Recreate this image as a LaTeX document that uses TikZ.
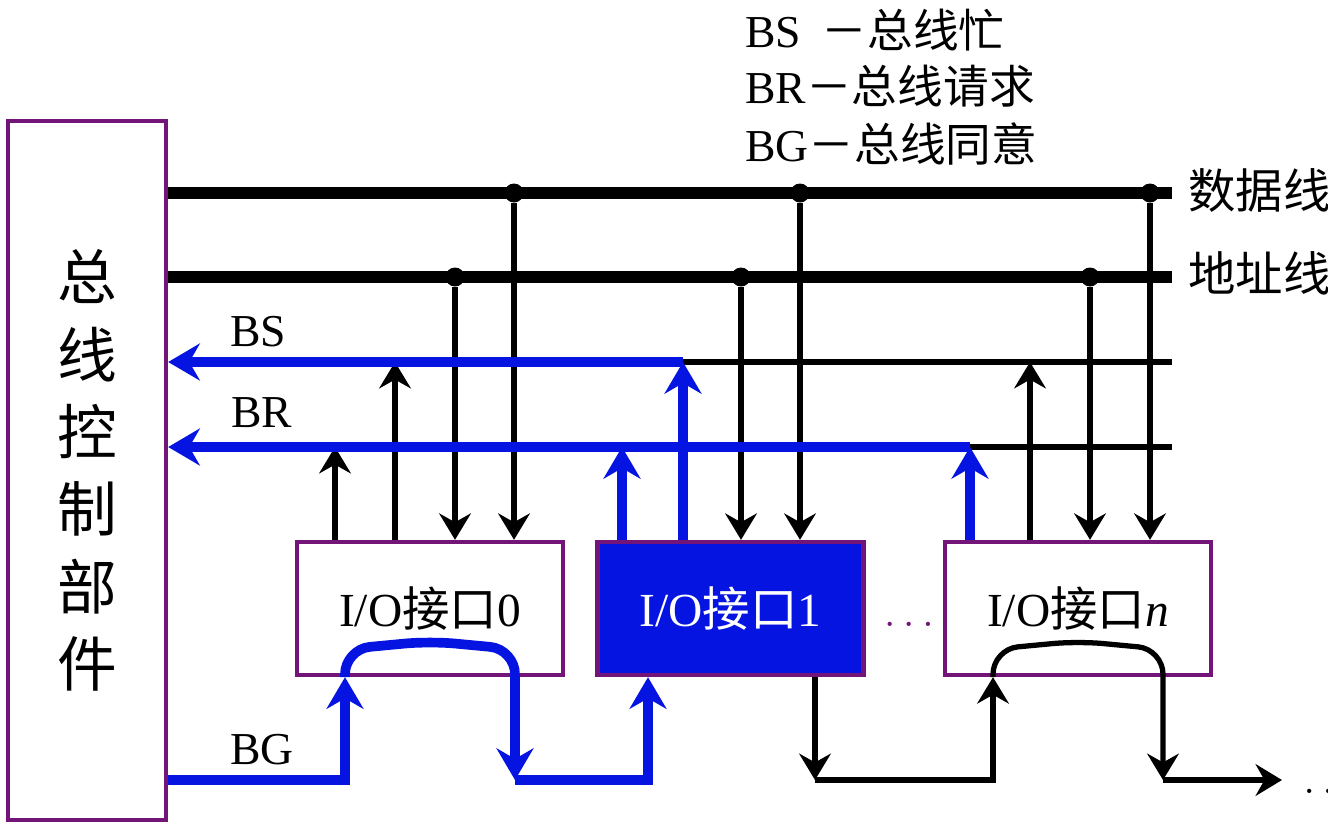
\documentclass[tikz,border=0pt]{standalone}
\usepackage{fontspec}
\setmainfont{Liberation Serif}
\newfontfamily\cjk{Noto Sans CJK SC}
\usetikzlibrary{arrows.meta}
\definecolor{busblue}{RGB}{5,20,225}
\definecolor{boxpurple}{RGB}{115,20,120}
\newcommand{\zhtext}[1]{{\cjk #1}}
\tikzset{
  bus/.style={line width=6.5pt},
  sig/.style={line width=3pt, >={Stealth[length=15pt,width=18pt,inset=5pt]}},
  bgsig/.style={line width=5.5pt, draw=busblue, >={Stealth[length=18pt,width=21pt,inset=6pt]}},
  tap/.style={circle, fill, inner sep=0pt, minimum size=0.38cm},
  ctrlbox/.style={draw=boxpurple, line width=2.5pt, minimum width=3.16cm,
    minimum height=13.98cm, align=center, font=\cjk\fontsize{34}{44}\selectfont},
  iobox/.style={draw=boxpurple, line width=2.5pt, fill=white, minimum width=5.32cm,
    minimum height=2.66cm, font=\fontsize{27}{30}\selectfont},
  lbl/.style={inner sep=0pt, font=\fontsize{26}{30}\selectfont}
}
\begin{document}
\begin{tikzpicture}[x=0.02cm,y=-0.02cm]
  \useasboundingbox (0,0) rectangle (1328,826);
  % units
  \node[ctrlbox] (ctrl) at (87,470.5) {总\\线\\控\\制\\部\\件};
  \node[iobox] (box0) at (430,608.5) {I/O\zhtext{接口}0};
  \node[iobox,fill=busblue,text=white] (box1) at (730.5,608.5) {I/O\zhtext{接口}1};
  \node[iobox] (boxn) at (1078,608.5) {I/O\zhtext{接口}\textit{n}};
  \node[lbl,text=boxpurple,anchor=base,font=\fontsize{27}{30}\selectfont] (gap) at (909,626) {$\ldots$};
  % legend
  \node[lbl,anchor=base west] (lgbs) at (745,47) {BS\hspace{0.45em}\zhtext{－总线忙}};
  \node[lbl,anchor=base west] (lgbr) at (745,103) {BR\zhtext{－总线请求}};
  \node[lbl,anchor=base west] (lgbg) at (745,161) {BG\zhtext{－总线同意}};
  % data and address bus
  \coordinate (dataend) at (1172,193);
  \coordinate (addrend) at (1172,277);
  \draw[bus] (ctrl.east |- dataend) -- (dataend);
  \draw[bus] (ctrl.east |- addrend) -- (addrend);
  \node[lbl,anchor=west,font=\cjk\fontsize{27}{30}\selectfont] (datalbl) at (1188,190) {数据线};
  \node[lbl,anchor=west,font=\cjk\fontsize{27}{30}\selectfont] (addrlbl) at (1188,273) {地址线};
  \node[tap] (d0) at (514,193) {};
  \node[tap] (d1) at (800,193) {};
  \node[tap] (dn) at (1150,193) {};
  \node[tap] (a0) at (455,277) {};
  \node[tap] (a1) at (741,277) {};
  \node[tap] (an) at (1090,277) {};
  \draw[sig,->] (d0) -- (d0 |- box0.north);
  \draw[sig,->] (d1) -- (d1 |- box1.north);
  \draw[sig,->] (dn) -- (dn |- boxn.north);
  \draw[sig,->] (a0) -- (a0 |- box0.north);
  \draw[sig,->] (a1) -- (a1 |- box1.north);
  \draw[sig,->] (an) -- (an |- boxn.north);
  % BS and BR
  \coordinate (bsbend) at (683,362);
  \coordinate (bsend) at (1172,362);
  \coordinate (brbend) at (970,447);
  \coordinate (brend) at (1172,447);
  \coordinate (r0) at (335,447);
  \coordinate (s0) at (395,362);
  \coordinate (r1) at (622,447);
  \coordinate (sn) at (1030,362);
  \draw[sig] (bsbend) -- (bsend);
  \draw[sig] (brbend) -- (brend);
  \draw[sig,->] (r0 |- box0.north) -- (r0);
  \draw[sig,->] (s0 |- box0.north) -- (s0);
  \draw[sig,->] (sn |- boxn.north) -- (sn);
  \draw[bgsig,->] (bsbend) -- (ctrl.east |- bsbend);
  \draw[bgsig,->] (brbend) -- (ctrl.east |- brbend);
  \draw[bgsig,->] (r1 |- box1.north) -- (r1);
  \draw[bgsig,->] (bsbend |- box1.north) -- (bsbend);
  \draw[bgsig,->] (brbend |- boxn.north) -- (brbend);
  \node[lbl,anchor=base west] (bslbl) at (230,346) {BS};
  \node[lbl,anchor=base west] (brlbl) at (231,427) {BR};
  \node[lbl,anchor=base west] (bglbl) at (230,764) {BG};
  % BG daisy chain
  \coordinate (g0in) at (345,780);
  \coordinate (g0out) at (515,780);
  \coordinate (g1in) at (648,780);
  \coordinate (g1out) at (815,780);
  \coordinate (gnin) at (993,780);
  \coordinate (gnout) at (1163,780);
  \coordinate (more) at (1282,780);
  \draw[bgsig,->] (ctrl.east |- g0in) -- (g0in) -- (g0in |- box0.south);
  \draw[bgsig,->,rounded corners=0.5cm] (g0in |- box0.south) -- ++(0,-28)
    -- ++(85,-8) -- ++(85,8) -- (g0out);
  \draw[bgsig,->] (g0out) -- (g1in) -- (g1in |- box1.south);
  \draw[sig,->] (g1out |- box1.south) -- (g1out);
  \draw[sig,->] (g1out) -- (gnin) -- (gnin |- boxn.south);
  \draw[sig,->,rounded corners=0.5cm] (gnin |- boxn.south) -- ++(0,-28)
    -- ++(85,-8) -- ++(85,8) -- (gnout);
  \draw[sig,->] (gnout) -- (more);
  \node[lbl,anchor=base west,font=\fontsize{27}{30}\selectfont] (morelbl) at (1303,793) {$\ldots$};
\end{tikzpicture}
\end{document}
